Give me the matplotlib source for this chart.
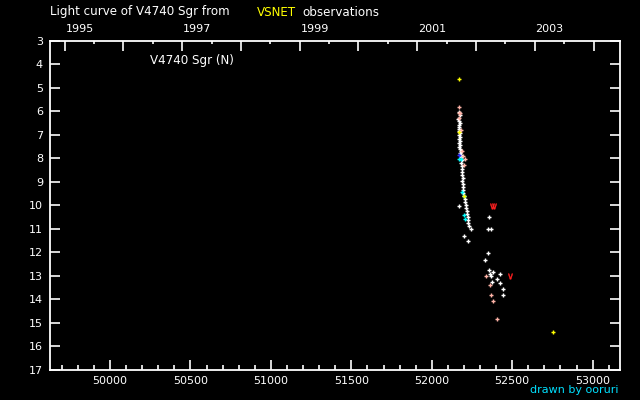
import matplotlib
matplotlib.use("Agg")
import matplotlib.pyplot as plt
from matplotlib.ticker import FixedLocator, MultipleLocator

# ---- data (JD - 2400000, visual magnitude) ----
white_jd = [52169, 52174, 52166, 52170, 52175, 52169, 52172, 52167, 52171, 52176,
            52169, 52173, 52170, 52177, 52171, 52175, 52172, 52178,
            52180, 52177, 52183, 52180, 52186, 52183, 52186, 52189, 52186, 52190,
            52192, 52189, 52192, 52194, 52195, 52197, 52201, 52205, 52208, 52211,
            52214, 52217, 52219, 52223, 52225, 52228, 52229,
            52169, 52356, 52349, 52366, 52244, 52200, 52225, 52349, 52333, 52356,
            52380, 52424, 52360, 52366, 52405, 52424, 52372, 52443, 52443]
white_mag = [6.03, 6.16, 6.33, 6.41, 6.50, 6.58, 6.67, 6.75, 6.84, 6.92,
             7.01, 7.09, 7.18, 7.26, 7.35, 7.43, 7.52, 7.60,
             7.69, 7.77, 7.86, 7.94, 8.07, 8.20, 8.33, 8.45, 8.58, 8.71,
             8.84, 8.97, 9.09, 9.22, 9.35, 9.48, 9.60, 9.73, 9.86, 9.99,
             10.12, 10.24, 10.37, 10.50, 10.62, 10.75, 10.88,
             10.04, 10.51, 11.02, 11.02, 11.02, 11.32, 11.53, 12.04, 12.34, 12.75,
             12.85, 12.93, 12.93, 13.02, 13.14, 13.31, 13.27, 13.57, 13.82]

pink_jd = [52169, 52169, 52175, 52169, 52182, 52186, 52192, 52206, 52200,
           52337, 52364, 52368, 52380, 52405]
pink_mag = [5.83, 6.06, 6.09, 6.30, 6.80, 7.68, 7.90, 8.04, 8.30,
            13.02, 13.40, 13.82, 14.08, 14.85]

cyan_jd = [52169, 52182, 52190, 52198, 52200, 52206]
cyan_mag = [8.04, 8.04, 9.42, 9.61, 10.41, 10.59]

yellow_jd = [52169, 52167, 52198, 52753]
yellow_mag = [4.64, 6.87, 9.60, 15.40]

blue_jd = [52169]
blue_mag = [7.86]

fainter_jd = [52376, 52384, 52487]
fainter_mag = [10.02, 10.02, 13.00]

year_labels = ["1995", "1997", "1999", "2001", "2003"]
year_label_jd = [49718.5, 50449.5, 51179.5, 51910.5, 52640.5]
year_jd = [49718.5, 50083.5, 50449.5, 50814.5, 51179.5, 51544.5, 51910.5,
           52275.5, 52640.5, 53005.5]
halfyear_jd = [49900, 50265, 50631, 50996, 51361, 51727, 52092, 52457, 52822]

xticks = [50000, 50500, 51000, 51500, 52000, 52500, 53000]
yticks = list(range(3, 18))

FONT = "DejaVu Sans"
FS = 8

fig = plt.figure(figsize=(6.4, 4.0), dpi=100, facecolor="black")
ax = fig.add_axes([50/640, 1-370/400, 570/640, 329.3/400], facecolor="black")

ax.set_xlim(49627, 53170)
ax.set_ylim(17, 3)

mk = dict(marker="+", linestyle="none", markersize=3.2, markeredgewidth=1.0)
ax.plot(white_jd, white_mag, color="white", **mk)
ax.plot(pink_jd, pink_mag, color="#ffb4a8", **mk)
ax.plot(cyan_jd, cyan_mag, color="#00ffff", **mk)
ax.plot(yellow_jd, yellow_mag, color="#ffff00", **mk)
ax.plot(blue_jd, blue_mag, color="#3030ff", **mk)
ax.plot(fainter_jd, fainter_mag, marker=r"$\vee$", linestyle="none", markersize=4,
        color="#ff2020", markeredgewidth=0.3)

for s in ax.spines.values():
    s.set_color("white")
    s.set_linewidth(1.3)

# bottom axis
ax.xaxis.set_major_locator(FixedLocator(xticks))
ax.xaxis.set_minor_locator(MultipleLocator(100))
ax.set_xticklabels([str(v) for v in xticks], fontsize=FS, family=FONT, color="white")
ax.tick_params(axis="x", which="major", direction="in", length=7, width=1.2,
               color="white", pad=4, top=False)
ax.tick_params(axis="x", which="minor", direction="in", length=3.5, width=1.2,
               color="white", top=False)

# y axis
ax.yaxis.set_major_locator(FixedLocator(yticks))
ax.set_yticklabels([str(v) for v in yticks], fontsize=FS, family=FONT, color="white")
ax.tick_params(axis="y", which="major", direction="in", length=7, width=1.2,
               color="white", pad=5, left=True, right=True)

# top axis in years
top = ax.twiny()
top.set_xlim(ax.get_xlim())
top.xaxis.set_major_locator(FixedLocator(year_jd))
top.xaxis.set_minor_locator(FixedLocator(halfyear_jd))
top.set_xticklabels([])
top.tick_params(axis="x", which="major", direction="in", length=7, width=1.2,
                color="white", top=True, bottom=False)
top.tick_params(axis="x", which="minor", direction="in", length=2.5, width=1.2,
                color="white", top=True, bottom=False)
for s in top.spines.values():
    s.set_visible(False)
for lbl, jd in zip(year_labels, year_label_jd):
    top.text(jd + 5, 1.0 + 7/329.3, lbl, transform=top.get_xaxis_transform(),
             ha="left", va="bottom", fontsize=FS, family=FONT, color="white")

# titles
TFS = 8.6
fig.text(50/640, 1-12/400, "Light curve of V4740 Sgr from", fontsize=TFS, family=FONT,
         color="white", ha="left", va="center")
fig.text(257/640, 1-12/400, "VSNET", fontsize=TFS, family=FONT,
         color="#ffff00", ha="left", va="center")
fig.text(302/640, 1-12/400, "observations", fontsize=TFS, family=FONT,
         color="white", ha="left", va="center")
fig.text(150/640, 1-60.5/400, "V4740 Sgr (N)", fontsize=TFS, family=FONT,
         color="white", ha="left", va="center")
fig.text(618/640, 1-390/400, "drawn by ooruri", fontsize=FS, family=FONT,
         color="#00e0ff", ha="right", va="center")

fig.savefig("out.png", dpi=100, facecolor="black")
